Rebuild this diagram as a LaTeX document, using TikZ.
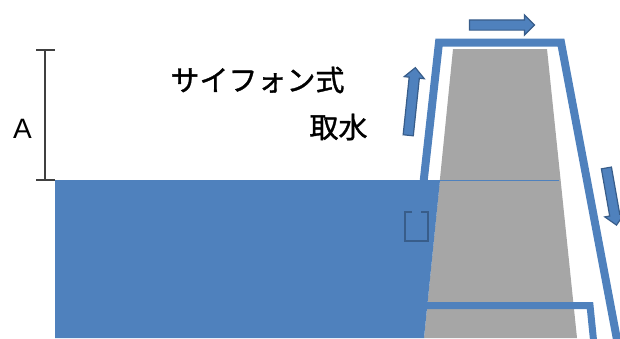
\documentclass[tikz,border=0pt]{standalone}
\usepackage{fontspec}
\setmainfont{Liberation Sans}
\newfontfamily\jpfont[FakeBold=1.2]{Noto Sans CJK JP}
\usetikzlibrary{shapes.arrows}
\definecolor{waterblue}{HTML}{4F81BD}
\definecolor{arrowedge}{HTML}{385D8A}
\definecolor{damgray}{HTML}{A6A6A6}
\definecolor{dimgray}{HTML}{404040}
\tikzset{
  pipe/.style={draw=waterblue, line width=8pt, line join=miter},
  flowarrow/.style={single arrow, draw=arrowedge, fill=waterblue, line width=1.2pt,
                    inner sep=4.5pt, single arrow head extend=5pt, anchor=center},
  dimline/.style={draw=dimgray, line width=1.2pt},
  jplabel/.style={font=\jpfont\fontsize{29}{34}\selectfont, inner sep=0pt},
}

\begin{document}
\begin{tikzpicture}[x=1pt, y=-1pt]
  \useasboundingbox (0,0) rectangle (620,338);

  % dam body
  \fill[damgray] (453,49) -- (547,49) -- (577,338) -- (424,338) -- cycle;

  % siphon pipe over the dam, and the outlet pipe through it
  \draw[pipe] (421,205) -- (439,42.5) -- (561,42.5) -- (618,345);
  \draw[pipe, line width=7pt] (424,305.5) -- (590,305.5) -- (594,345);

  % reservoir
  \fill[waterblue] (55,180) -- (440,180) -- (424,338) -- (55,338) -- cycle;
  \draw[waterblue, line width=1pt] (440,180) -- (559,180);

  % intake mouth
  \draw[arrowedge, line width=2.5pt] (412,212) -- (405,212) -- (405,241)
    -- (428,241) -- (428,212) -- (421,212);

  % flow direction
  \node[flowarrow, minimum height=68pt, rotate=84] (upflow) at (411.5,104) {};
  \node[flowarrow, minimum height=65pt] (topflow) at (499.5,25) {};
  \node[flowarrow, minimum height=58pt, rotate=-80] (downflow) at (611,194) {};

  % head between water level and crest
  \coordinate (dimtop) at (45,50);
  \coordinate (dimbot) at (45,180);
  \draw[dimline] (dimtop) -- (dimbot);
  \draw[dimline] ([xshift=-9pt]dimtop) -- ([xshift=10pt]dimtop);
  \draw[dimline] ([xshift=-9pt]dimbot) -- ([xshift=10pt]dimbot);
  \node[font=\fontsize{28}{32}\selectfont, inner sep=0pt] (head) at (22.5,129) {A};

  \node[jplabel] (title) at (257.5,80) {サイフォン式};
  \node[jplabel] (sub) at (338.5,127) {取水};
\end{tikzpicture}
\end{document}
